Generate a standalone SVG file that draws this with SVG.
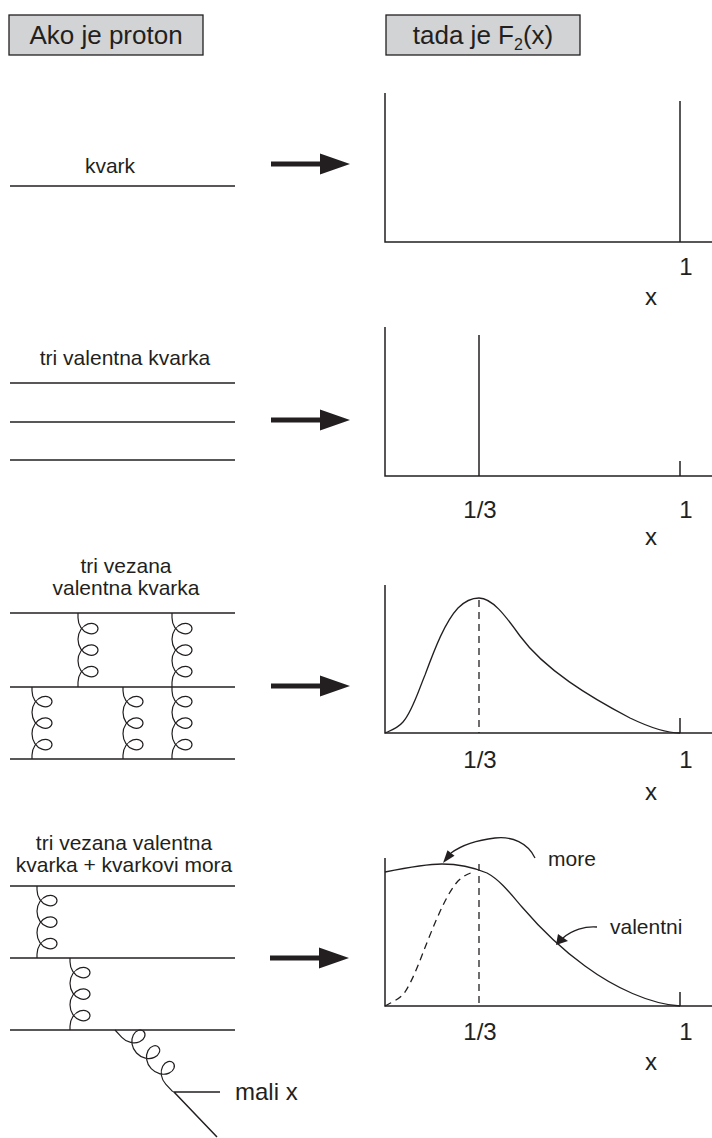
<svg xmlns="http://www.w3.org/2000/svg" xmlns:xlink="http://www.w3.org/1999/xlink" width="712" height="1138" viewBox="0 0 712 1138">
<style>
text{font-family:"Liberation Sans",Arial,sans-serif;fill:#231f20}
.lbl{font-size:21px;text-anchor:middle}
.ax{font-size:24px;text-anchor:middle}
.hdr{font-size:26px;text-anchor:middle}
.q{stroke:#231f20;stroke-width:1.5;fill:none}
.axis{stroke:#231f20;stroke-width:1.5;fill:none}
.crv{stroke:#231f20;stroke-width:1.3;fill:none}
.dash{stroke:#231f20;stroke-width:1.3;fill:none;stroke-dasharray:7 5}
.gl{stroke:#231f20;stroke-width:1.2;fill:none}
.box{fill:#d1d3d4;stroke:#231f20;stroke-width:1.3}
.ah{fill:#231f20;stroke:none}
</style>
<defs>
<path id="g74" d="M0,0 v4.8 c0,3.51 1.08,7.01 2.93,9.76 c1.85,2.75 4.45,4.72 7.07,5.62 c2.62,0.9 5.22,0.71 7.07,-0.24 c1.85,-0.96 2.93,-2.66 2.93,-4.39 c0,-1.72 -1.08,-3.43 -2.93,-4.39 c-1.85,-0.96 -4.45,-1.14 -7.07,-0.24 c-2.62,0.9 -5.22,2.87 -7.07,5.62 c-1.85,2.75 -2.93,6.24 -2.93,9.76 c0,3.51 1.08,7.01 2.93,9.76 c1.85,2.75 4.45,4.72 7.07,5.62 c2.62,0.9 5.22,0.71 7.07,-0.24 c1.85,-0.96 2.93,-2.66 2.93,-4.39 c0,-1.72 -1.08,-3.43 -2.93,-4.39 c-1.85,-0.96 -4.450,-1.14 -7.07,-0.24 c-2.62,0.9 -5.22,2.87 -7.07,5.62 c-1.85,2.75 -2.93,6.24 -2.93,9.76 c0,3.51 1.08,7.01 2.93,9.76 c1.85,2.75 4.45,4.72 7.07,5.62 c2.62,0.9 5.22,0.71 7.07,-0.24 c1.85,-0.96 2.93,-2.66 2.93,-4.39 c0,-1.72 -1.08,-3.43 -2.93,-4.39 c-1.85,-0.96 -4.45,-1.14 -7.07,-0.24 c-2.62,0.9 -5.22,2.87 -7.07,5.62 c-1.85,2.75 -2.93,6.24 -2.93,9.76 v4.8"/>
<path id="g72" d="M0,0 v3.8 c0,3.51 1.08,7.01 2.93,9.76 c1.85,2.75 4.45,4.72 7.07,5.62 c2.62,0.9 5.22,0.71 7.07,-0.24 c1.85,-0.96 2.93,-2.66 2.93,-4.39 c0,-1.72 -1.08,-3.43 -2.93,-4.39 c-1.85,-0.96 -4.45,-1.14 -7.07,-0.24 c-2.62,0.9 -5.22,2.87 -7.07,5.62 c-1.85,2.75 -2.93,6.24 -2.93,9.76 c0,3.51 1.08,7.01 2.93,9.76 c1.85,2.75 4.45,4.72 7.07,5.62 c2.62,0.9 5.22,0.71 7.07,-0.24 c1.85,-0.96 2.93,-2.66 2.93,-4.39 c0,-1.72 -1.08,-3.43 -2.93,-4.39 c-1.85,-0.96 -4.45,-1.14 -7.07,-0.24 c-2.62,0.9 -5.22,2.87 -7.07,5.62 c-1.85,2.75 -2.93,6.24 -2.93,9.76 c0,3.51 1.08,7.01 2.93,9.76 c1.85,2.75 4.45,4.72 7.07,5.62 c2.62,0.9 5.22,0.71 7.07,-0.24 c1.85,-0.96 2.93,-2.66 2.93,-4.39 c0,-1.72 -1.08,-3.43 -2.93,-4.39 c-1.85,-0.96 -4.45,-1.14 -7.07,-0.24 c-2.62,0.9 -5.22,2.87 -7.07,5.62 c-1.85,2.75 -2.93,6.24 -2.93,9.76 v3.8"/>
<path id="g85" d="M0,0 v10 c0,3.51 1.08,7.01 2.93,9.76 c1.85,2.75 4.45,4.72 7.07,5.62 c2.62,0.9 5.22,0.71 7.07,-0.24 c1.85,-0.96 2.93,-2.66 2.93,-4.39 c0,-1.72 -1.08,-3.43 -2.93,-4.39 c-1.85,-0.96 -4.45,-1.14 -7.07,-0.24 c-2.62,0.9 -5.22,2.87 -7.07,5.62 c-1.85,2.75 -2.93,6.24 -2.93,9.76 c0,3.51 1.08,7.01 2.93,9.76 c1.85,2.75 4.45,4.72 7.07,5.62 c2.62,0.9 5.22,0.71 7.07,-0.24 c1.85,-0.96 2.93,-2.66 2.93,-4.39 c0,-1.72 -1.08,-3.43 -2.93,-4.39 c-1.85,-0.96 -4.45,-1.14 -7.07,-0.24 c-2.62,0.9 -5.22,2.87 -7.07,5.62 c-1.85,2.75 -2.93,6.24 -2.93,9.76 c0,3.51 1.08,7.01 2.93,9.76 c1.85,2.75 4.45,4.72 7.07,5.62 c2.62,0.9 5.22,0.71 7.07,-0.24 c1.85,-0.96 2.93,-2.66 2.93,-4.39 c0,-1.72 -1.08,-3.43 -2.93,-4.39 c-1.85,-0.96 -4.45,-1.14 -7.07,-0.24 c-2.62,0.9 -5.22,2.87 -7.07,5.62 c-1.85,2.75 -2.93,6.24 -2.93,9.76 v10"/>
<path id="bigarrow" d="M0,-2.5 H49 V-10.5 L79,0 L49,10.5 V2.5 H0 Z"/>
</defs>

<g id="header-left">
<rect class="box" x="9" y="15" width="194" height="40"/>
<text class="hdr" x="106" y="44">Ako je proton</text>
</g>
<g id="header-right">
<rect class="box" x="386" y="15" width="194" height="40"/>
<text class="hdr" x="483" y="44">tada je F<tspan font-size="16" dy="6">2</tspan><tspan dy="-6">(x)</tspan></text>
</g>

<g id="connectors">
<use href="#bigarrow" class="ah" x="271" y="164"/>
<use href="#bigarrow" class="ah" x="271" y="420"/>
<use href="#bigarrow" class="ah" x="271" y="686"/>
<use href="#bigarrow" class="ah" x="270" y="958"/>
</g>

<g id="proton-1">
<text class="lbl" x="110" y="173">kvark</text>
<line class="q" x1="10" y1="186" x2="235" y2="186"/>
</g>

<g id="plot-1">
<path class="axis" d="M385,93 V242 H712"/>
<line class="axis" x1="680" y1="101" x2="680" y2="242"/>
<text class="ax" x="686" y="275">1</text>
<text class="ax" x="651" y="305">x</text>
</g>

<g id="proton-2">
<text class="lbl" x="125" y="365">tri valentna kvarka</text>
<line class="q" x1="10" y1="383" x2="235" y2="383"/>
<line class="q" x1="10" y1="422" x2="235" y2="422"/>
<line class="q" x1="10" y1="460" x2="235" y2="460"/>
</g>

<g id="plot-2">
<path class="axis" d="M385,327 V476 H712"/>
<line class="axis" x1="479" y1="335" x2="479" y2="476"/>
<line class="axis" x1="680" y1="461" x2="680" y2="476"/>
<text class="ax" x="480" y="518">1/3</text>
<text class="ax" x="686" y="518">1</text>
<text class="ax" x="651" y="545">x</text>
</g>

<g id="proton-3">
<text class="lbl" x="126" y="573">tri vezana</text>
<text class="lbl" x="126" y="595">valentna kvarka</text>
<line class="q" x1="10" y1="613" x2="235" y2="613"/>
<line class="q" x1="10" y1="687" x2="235" y2="687"/>
<line class="q" x1="10" y1="759" x2="235" y2="759"/>
<use href="#g74" class="gl" x="78" y="613"/>
<use href="#g74" class="gl" x="172" y="613"/>
<use href="#g72" class="gl" x="32" y="687"/>
<use href="#g72" class="gl" x="123" y="687"/>
<use href="#g72" class="gl" x="172" y="687"/>
</g>

<g id="plot-3">
<path class="axis" d="M385,585 V733 H712"/>
<line class="axis" x1="680" y1="718" x2="680" y2="733"/>
<line class="dash" x1="479" y1="600" x2="479" y2="733"/>
<path class="crv" d="M385,733 C392,730 398,728 403,722 C412,712 418,692 425,675 C435,648 445,622 458,608 C465,601 472,598 479,598 C492,598 505,615 520,636 C545,670 590,697 630,718 C655,730 670,733 680,733"/>
<text class="ax" x="480" y="768">1/3</text>
<text class="ax" x="686" y="768">1</text>
<text class="ax" x="651" y="800">x</text>
</g>

<g id="proton-4">
<text class="lbl" x="124" y="850">tri vezana valentna</text>
<text class="lbl" x="124" y="872">kvarka + kvarkovi mora</text>
<line class="q" x1="10" y1="886" x2="235" y2="886"/>
<line class="q" x1="10" y1="958" x2="235" y2="958"/>
<line class="q" x1="10" y1="1030" x2="235" y2="1030"/>
<use href="#g72" class="gl" x="37" y="886"/>
<use href="#g72" class="gl" x="70" y="958"/>
<use href="#g85" class="gl" transform="translate(115,1030) rotate(-43.1)"/>
<path class="q" d="M220,1092 H174 L217,1137"/>
<text x="235" y="1100" font-size="24">mali x</text>
</g>

<g id="plot-4">
<path class="axis" d="M385,858 V1006 H712"/>
<line class="axis" x1="680" y1="992" x2="680" y2="1006"/>
<line class="dash" x1="479" y1="864" x2="479" y2="1006"/>
<path class="crv" d="M385,872 C405,868 425,864 442,864 C458,864 475,868 487,873 C500,880 510,893 522,907 C540,928 560,948 585,966 C615,988 650,1004 680,1006"/>
<path class="dash" d="M385,1006 C392,1002 400,999 405,992 C414,978 420,960 428,940 C438,915 448,892 458,881 C463,876 468,874 473,872"/>
<path class="crv" d="M535,858 C528,843 512,836 495,838 C478,840 462,845 451,853"/>
<polygon class="ah" points="443,863 454.5,855.8 447.5,850.2"/>
<text x="548" y="866" font-size="21">more</text>
<path class="crv" d="M597,927 C585,926 572,930 563,938"/>
<polygon class="ah" points="556,945 558,934 568,941"/>
<text x="610" y="934" font-size="21">valentni</text>
<text class="ax" x="480" y="1040">1/3</text>
<text class="ax" x="686" y="1040">1</text>
<text class="ax" x="651" y="1070">x</text>
</g>
</svg>
